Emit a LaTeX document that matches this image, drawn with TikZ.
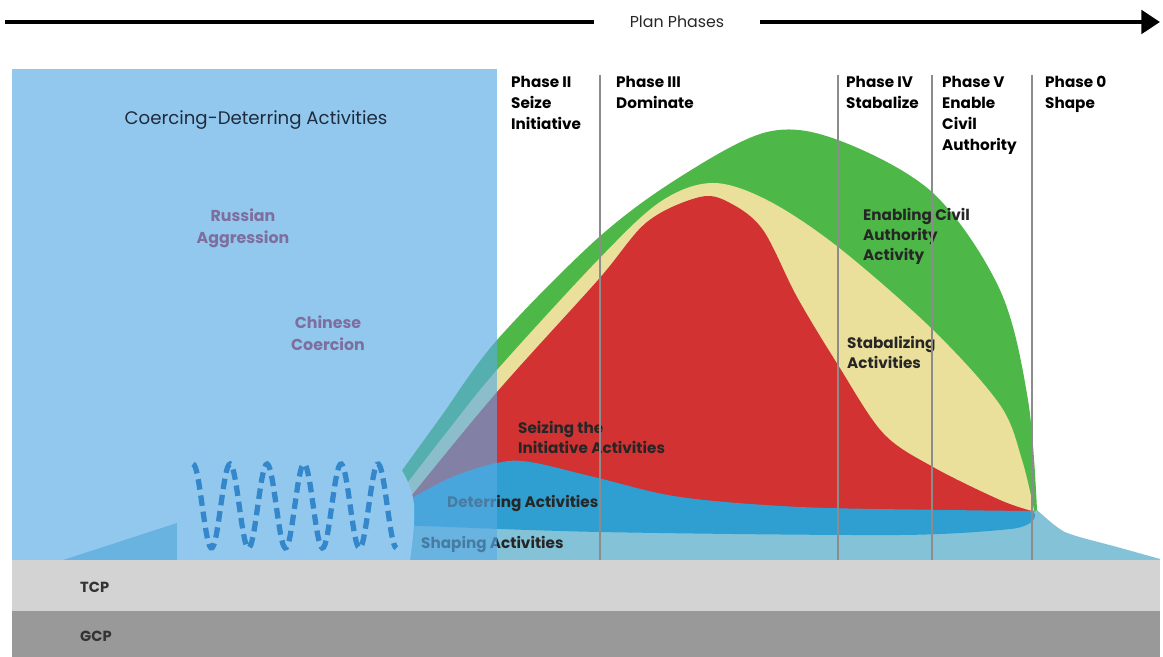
\documentclass[tikz,border=0pt]{standalone}
\usepackage{fontspec}
\setmainfont{Poppins}
\usepackage{xcolor}
\usepackage{tikz}
\usetikzlibrary{arrows.meta}

\definecolor{coerceBlue}{RGB}{89,171,229}
\definecolor{enableGreen}{RGB}{77,184,72}
\definecolor{stabYellow}{RGB}{235,224,155}
\definecolor{seizeRed}{RGB}{210,50,50}
\definecolor{deterBlue}{RGB}{46,159,208}
\definecolor{shapeBlue}{RGB}{132,194,216}
\definecolor{waveBlue}{RGB}{52,135,203}
\definecolor{tcpGray}{RGB}{211,211,211}
\definecolor{gcpGray}{RGB}{153,153,153}
\definecolor{lineGray}{RGB}{140,140,140}
\definecolor{threatPurple}{RGB}{126,110,158}
\definecolor{titleNavy}{RGB}{30,43,60}

\tikzstyle{phase} = [anchor=north west, align=left, inner sep=0pt,
    font=\fontsize{13}{18}\selectfont\bfseries]
\tikzstyle{activity} = [anchor=north west, align=left, inner sep=0pt,
    text=black!85, font=\fontsize{13}{17}\selectfont\bfseries]
\tikzstyle{threat} = [align=center, inner sep=0pt, text=threatPurple,
    font=\fontsize{13.5}{19}\selectfont\bfseries]
\tikzstyle{bar} = [anchor=west, inner sep=0pt, text=black!80,
    font=\fontsize{12.5}{14}\selectfont\bfseries]
\tikzstyle{planline} = [draw=lineGray, line width=1.7pt]
\tikzstyle{timeline} = [draw, line width=3.6pt]

\begin{document}
\begin{tikzpicture}[x=0.03cm, y=-0.03cm]
			\useasboundingbox (0,0) rectangle (1163,657);
			% activity layers
			\fill[shapeBlue] (60,561) -- (177,523) -- (1030,512) -- plot[smooth, tension=0.6] coordinates {(1037,510) (1057,527) (1073,535) (1117,547) (1160,559)} -- (1160,561) -- cycle;
			\fill[enableGreen] plot[smooth, tension=0.55] coordinates {(385,494) (398,476) (440,418) (497,340) (598,238) (680,177) (767,132) (838,140) (933,193) (1000,290) (1028,400) (1037,510)} -- (1030,514) -- (385,514) -- cycle;
			\fill[stabYellow] plot[smooth, tension=0.55] coordinates {(393,501) (405,486) (450,428) (497,370) (598,260) (660,202) (712,183) (767,200) (838,247) (933,330) (1000,405) (1022,460) (1034,510)} -- (1030,514) -- (393,514) -- cycle;
			\fill[seizeRed] plot[smooth, tension=0.55] coordinates {(400,510) (412,495) (497,392) (598,280) (647,222) (700,197) (730,203) (763,230) (797,297) (838,365) (883,433) (933,467) (1000,500) (1032,511)} -- (1030,514) -- (400,514) -- cycle;
			\fill[deterBlue] plot[smooth, tension=0.55] coordinates {(400,505) (450,478) (497,463) (530,462) (598,478) (680,497) (800,507) (950,510) (1030,511)} .. controls (1040,512) and (1036,527) .. (1010,529) -- plot[smooth, tension=0.55] coordinates {(1010,529) (900,535) (600,532) (400,525)} -- cycle;
			% activity labels
			\node[activity] (seizeLabel) at (518,421) {Seizing the\\Initiative Activities};
			\node[activity, anchor=west] (deterLabel) at (447,503) {Deterring Activities};
			\node[activity, anchor=west] (shapeLabel) at (421,544) {Shaping Activities};
			\node[activity] (stabLabel) at (847,336) {Stabalizing\\Activities};
			\node[activity] (enableLabel) at (863,208) {Enabling Civil\\Authority\\Activity};
			% coercing-deterring box
			\fill[white] (177,561) -- (177,440) -- (380,440) .. controls (398,462) and (412,482) .. (414,505) .. controls (415,525) and (412,545) .. (410,561) -- cycle;
			% TCP and GCP bands
			\fill[tcpGray] (12,560) rectangle (1160,611);
			\fill[gcpGray] (12,611) rectangle (1160,657);
			\fill[coerceBlue, opacity=0.65] (12,69) rectangle (497,560);
			\draw[waveBlue, line width=4.5pt, dash pattern=on 9pt off 5pt] plot[domain=0:5.5, samples=160, smooth] ({193+37*\x}, {506-42*cos(360*\x)});
			\node[text=titleNavy, font=\fontsize{15.5}{18}\selectfont] (coercingLabel) at (256,120) {Coercing-Deterring Activities};
			\node[threat] (russianLabel) at (243,228) {Russian\\Aggression};
			\node[threat] (chineseLabel) at (328,333) {Chinese\\Coercion};
			% phase boundaries
			\foreach \px in {600,838,932,1032}
				\draw[planline] (\px,75) -- (\px,560);
			% phase names
			\node[phase] (phaseTwo) at (511,76) {Phase II\\Seize\\Initiative};
			\node[phase] (phaseThree) at (616,76) {Phase III\\Dominate};
			\node[phase] (phaseFour) at (846,76) {Phase IV\\Stabalize};
			\node[phase] (phaseFive) at (942,76) {Phase V\\Enable\\Civil\\Authority};
			\node[phase] (phaseZero) at (1045,76) {Phase 0\\Shape};
			% planning levels
			\node[bar] (tcpLabel) at (80,587) {TCP};
			\node[bar] (gcpLabel) at (80,636) {GCP};
			% plan phases arrow
			\node [inner sep=0pt, minimum width=142pt, minimum height=14pt, text=black!85, font=\fontsize{13.5}{15}\selectfont] (planPhases) at (677,22) {Plan Phases};
			\coordinate (timeStart) at (5,22);
			\coordinate (timeEnd) at (1160,22);
			\path [timeline] (timeStart) -- (planPhases.west);
			\path [timeline, -{Triangle[length=16pt, width=20pt]}] (planPhases.east) -- (timeEnd);
	\end{tikzpicture}
\end{document}
